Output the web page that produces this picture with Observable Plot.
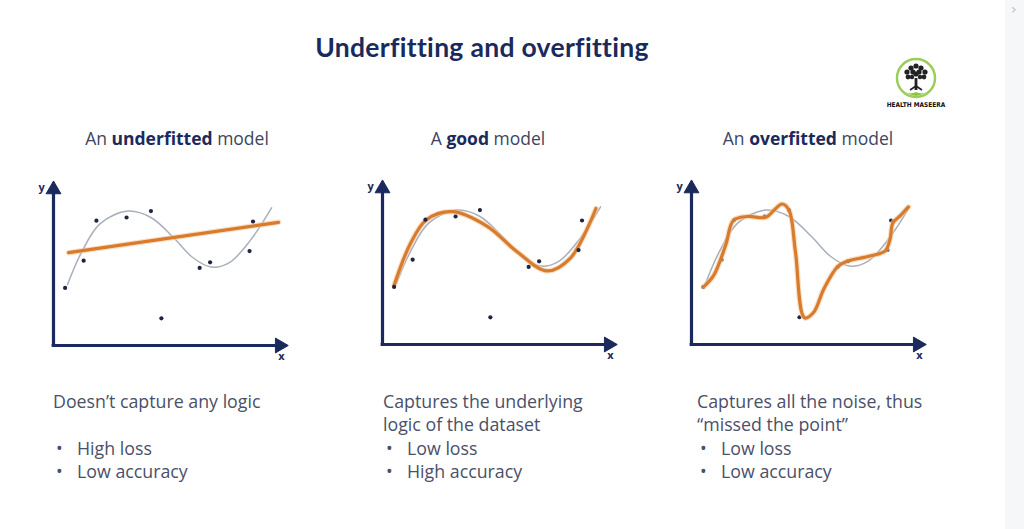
<!DOCTYPE html>
<html>
<head>
<meta charset="utf-8">
<script src="https://cdn.jsdelivr.net/npm/d3@7"></script>
<script src="https://cdn.jsdelivr.net/npm/@observablehq/plot@0.6"></script>
<style>
  html, body { margin: 0; padding: 0; background: #fff; }
  #page { position: relative; width: 1024px; height: 529px; overflow: hidden; background: #fff; }
  .abs { position: absolute; }
  #title { left: 0; width: 964px; top: 31px; text-align: center; font-family: Lato, "Noto Sans", sans-serif;
           font-weight: 700; font-size: 26.5px; color: #1b2a5c; letter-spacing: 0.3px; }
  .ptitle { width: 300px; text-align: center; top: 126px; font-family: "Open Sans", "Noto Sans", sans-serif;
            font-size: 17.5px; color: #3d4560; white-space: nowrap; }
  .ptitle b { color: #1b2a5c; font-weight: 700; }
  .desc { top: 390px; font-family: "Open Sans", "Noto Sans", sans-serif; font-size: 17.8px; line-height: 23.3px;
          color: #4a5068; white-space: nowrap; }
  .bul { display: inline-block; width: 21px; padding-left: 3px; }
  #edge { left: 1005px; top: 0; width: 19px; height: 529px; background: #f6f7f9; }
  #chev { left: 1011px; top: 1px; font-family: "DejaVu Sans", sans-serif; font-size: 14px; line-height: 16px; color: #b9bcc3; }
</style>
</head>
<body>
<div id="page"></div>
<script>
// ---------- data ----------
const titleText = "Underfitting and overfitting";
const panelTitles = [
  ["An ", "underfitted", " model"],
  ["A ", "good", " model"],
  ["An ", "overfitted", " model"]
];
const panelDescs = [
  ["Doesn\u2019t capture any logic", ""],
  ["Captures the underlying", "logic of the dataset"],
  ["Captures all the noise, thus", "\u201cmissed the point\u201d"]
];
const panelBullets = [
  ["High loss", "Low accuracy"],
  ["Low loss", "High accuracy"],
  ["Low loss", "Low accuracy"]
];
// observed data points (same dataset in each panel)
const pointX = [5, 13, 18.5, 31.5, 42, 46.5, 63, 67.5, 84.5, 86];
const pointY = [36, 53, 78, 80, 84, 17, 48.5, 52, 59, 77.5];
// underlying true function (gray)
const trueX = [6, 12, 20, 32, 42, 52, 60, 68, 76, 85, 94];
const trueY = [38, 58, 76, 84, 80, 67, 55, 49, 52, 66, 86];
// underfitted model (straight line)
const underX = [6.5, 97];
const underY = [58, 77];
// good model
const goodX = [5, 12, 19, 30, 45, 58, 71, 81, 92];
const goodY = [37, 63, 78, 83, 74, 58, 46, 54, 85];
// overfitted model
const overX = [5.2, 9.5, 14.7, 18.1, 24, 32, 36, 39, 42, 44.8, 48.7, 52.6, 57, 63, 67, 76, 83.5, 85.6, 86.8, 90, 93.5];
const overY = [36, 43, 62, 77.6, 80, 79.5, 84.6, 87.8, 84, 58, 16.7, 20, 34.6, 48.7, 52, 55, 58.5, 66, 76, 80.5, 86];
// axis arrow extents
const axisEnds = {lineEnd: 96, tip: 97.5};

const zip = (xs, ys) => xs.map((x, i) => ({x, y: ys[i]}));
const points = zip(pointX, pointY);
const trueCurve = zip(trueX, trueY);
const models = [
  {data: zip(underX, underY), curve: "linear"},
  {data: zip(goodX, goodY), curve: "catmull-rom"},
  {data: zip(overX, overY), curve: "catmull-rom"}
];

// ---------- layout ----------
const page = document.getElementById("page");
function add(html, cls, style) {
  const d = document.createElement("div");
  d.className = "abs " + (cls || "");
  if (style) Object.assign(d.style, style);
  d.innerHTML = html;
  page.appendChild(d);
  return d;
}
const t = add(titleText, "", {}); t.id = "title";

const panelLeft = [33, 362, 671];
const panelTop = [175, 174, 174];
const titleCenters = [177, 488, 808];
const descLeft = [53, 383, 697];

const navy = "#1b2a5c";
const orange = "#d97b2c";
const gray = "#a9afbb";

panelTitles.forEach((p, i) => {
  add(`${p[0]}<b>${p[1]}</b>${p[2]}`, "ptitle", {left: (titleCenters[i] - 150) + "px"});
  const lines = panelDescs[i].map(s => s === "" ? "&nbsp;" : s)
    .concat(panelBullets[i].map(b => `<span class="bul">\u2022</span>${b}`));
  add(lines.join("<br>"), "desc", {left: descLeft[i] + "px"});

  const m = models[i];
  const marks = [
    Plot.ruleX([0], {y1: 0, y2: axisEnds.lineEnd, stroke: navy, strokeWidth: 3.2}),
    Plot.ruleY([0], {x1: -0.6, x2: axisEnds.lineEnd, stroke: navy, strokeWidth: 3.2}),
    Plot.dot([{x: 0, y: axisEnds.tip}], {x: "x", y: "y", symbol: "triangle", r: 5.5, fill: navy, stroke: navy, strokeWidth: 1}),
    Plot.dot([{x: axisEnds.tip, y: 0}], {x: "x", y: "y", symbol: "triangle", r: 5.5, fill: navy, stroke: navy, strokeWidth: 1, rotate: 90}),
    Plot.text([{x: 0, y: 100, t: "y"}], {x: "x", y: "y", text: "t", dx: -12, dy: 2, fontSize: 11, fontWeight: 700, fill: navy}),
    Plot.text([{x: 100, y: 0, t: "x"}], {x: "x", y: "y", text: "t", dx: -4, dy: 11, fontSize: 11, fontWeight: 700, fill: navy}),
    Plot.line(trueCurve, {x: "x", y: "y", curve: "catmull-rom", stroke: gray, strokeWidth: 1.5}),
  ];
  if (i === 2) marks.push(Plot.dot(points, {x: "x", y: "y", r: 2, fill: "#1d2540"}));
  marks.push(Plot.line(m.data, {x: "x", y: "y", curve: m.curve, stroke: "#f3c9a0", strokeWidth: 5.5, strokeOpacity: 0.6}));
  marks.push(Plot.line(m.data, {x: "x", y: "y", curve: m.curve, stroke: orange, strokeWidth: 3.2}));
  if (i !== 2) marks.push(Plot.dot(points, {x: "x", y: "y", r: 2.1, fill: "#1d2540"}));

  const chart = Plot.plot({
    width: 272, height: 190,
    marginLeft: 20, marginRight: 20, marginTop: 10, marginBottom: 20,
    x: {domain: [0, 100], axis: null},
    y: {domain: [0, 100], axis: null},
    style: {background: "transparent", overflow: "visible", fontFamily: "Open Sans, sans-serif"},
    marks
  });
  const holder = add("", "", {left: panelLeft[i] + "px", top: panelTop[i] + "px"});
  holder.appendChild(chart);
});

// logo (Health Maseera)
add(`<svg width="70" height="64" viewBox="0 0 70 64" xmlns="http://www.w3.org/2000/svg">
  <circle cx="35" cy="22" r="19" fill="none" stroke="#9ccc5a" stroke-width="2.5"/>
  <path d="M19 32 Q27 40 35 36 Q43 40 51 32 Q45 38 35 40 Q25 38 19 32Z" fill="#8cc63f"/>
  <rect x="33.6" y="22" width="2.8" height="12" fill="#222"/>
  <path d="M35 30 L29 34 M35 30 L41 34" stroke="#222" stroke-width="1.6"/>
  <g fill="#222">
    <circle cx="35" cy="10" r="2.6"/><circle cx="30" cy="12" r="2.6"/><circle cx="40" cy="12" r="2.6"/>
    <circle cx="26" cy="16" r="2.6"/><circle cx="44" cy="16" r="2.6"/><circle cx="32" cy="16" r="2.6"/>
    <circle cx="38" cy="16" r="2.6"/><circle cx="27" cy="21" r="2.4"/><circle cx="43" cy="21" r="2.4"/>
    <circle cx="35" cy="18" r="2.6"/><circle cx="31" cy="21" r="2.2"/><circle cx="39" cy="21" r="2.2"/>
  </g>
  <text x="35" y="51" text-anchor="middle" font-family="Liberation Sans Narrow, DejaVu Sans Condensed, sans-serif"
        font-weight="700" font-size="6.5" fill="#111">HEALTH MASEERA</text>
</svg>`, "", {left: "881px", top: "56px"});

add("", "", {}).id = "edge";
add("\u203a", "", {}).id = "chev";
</script>
</body>
</html>
